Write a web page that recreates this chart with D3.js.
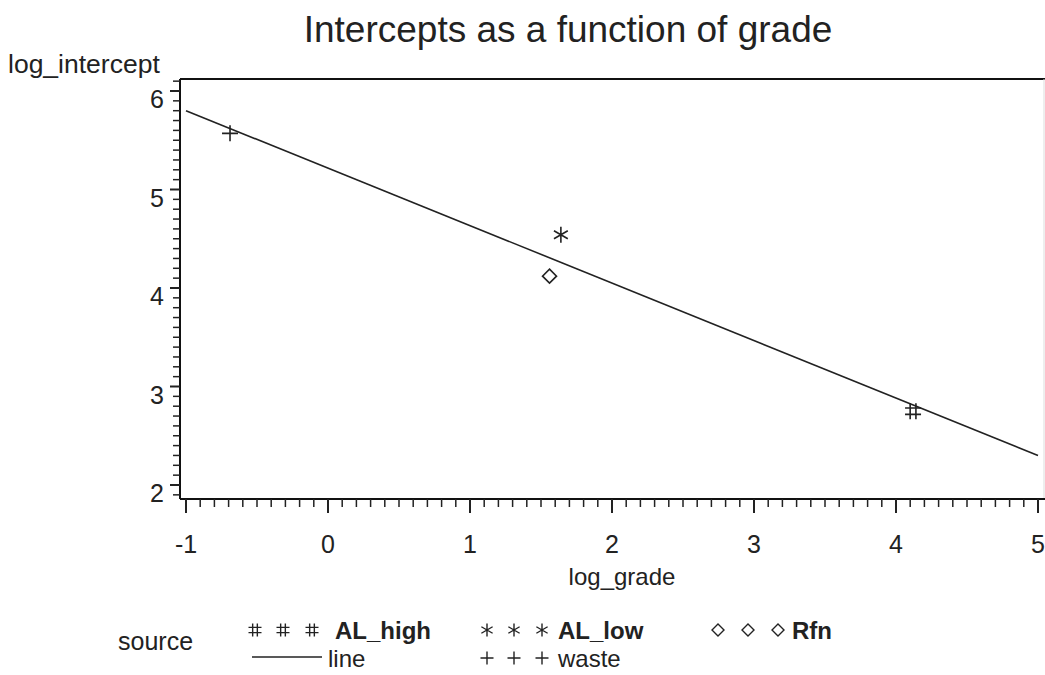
<!DOCTYPE html>
<html>
<head>
<meta charset="utf-8">
<script src="https://cdn.jsdelivr.net/npm/d3@7"></script>
<style>
  body { margin: 0; background: #fff; }
  text { font-family: "Liberation Sans", Arial, Helvetica, sans-serif; fill: #222; }
</style>
</head>
<body>
<div id="chart"></div>
<script>
var width = 1045,
    height = 675;

// data
var sources = ['AL_high', 'AL_low', 'Rfn', 'waste'];
var logGrade = [4.12, 1.64, 1.56, -0.69];
var logIntercept = [2.75, 4.54, 4.12, 5.57];
// fitted line, end points at x = -1 and x = 5
var lineX = [-1, 5];
var lineY = [5.80, 2.30];
var xTicks = [-1, 0, 1, 2, 3, 4, 5];
var yTicks = [2, 3, 4, 5, 6];

var svg = d3.select('#chart')
    .append('svg')
    .attr('width', width)
    .attr('height', height);

var x = d3.scaleLinear().domain([-1, 5]).range([186, 1038]);
var y = d3.scaleLinear().domain([2, 6]).range([485, 91]);

var frameLeft = 180, frameRight = 1045, frameTop = 79, frameBottom = 499;

// symbol paths, centred on 0,0
function symbolPath(name, s) {
    var h = s / 2;
    if (name === 'AL_high') {
        var a = s * 0.18, b = s * 0.2;
        return 'M' + (-a) + ',' + (-h) + 'L' + (-a) + ',' + h +
            'M' + a + ',' + (-h) + 'L' + a + ',' + h +
            'M' + (-h) + ',' + (-b) + 'L' + h + ',' + (-b) +
            'M' + (-h) + ',' + b + 'L' + h + ',' + b;
    }
    if (name === 'AL_low') {
        var p = '';
        for (var i = 0; i < 3; i++) {
            var ang = Math.PI / 2 + i * Math.PI / 3;
            var dx = Math.cos(ang) * h, dy = Math.sin(ang) * h;
            p += 'M' + (-dx) + ',' + (-dy) + 'L' + dx + ',' + dy;
        }
        return p;
    }
    if (name === 'Rfn') {
        return 'M0,' + (-h) + 'L' + h + ',0L0,' + h + 'L' + (-h) + ',0Z';
    }
    return 'M' + (-h) + ',0L' + h + ',0M0,' + (-h) + 'L0,' + h;
}

// title
svg.append('text')
    .attr('x', 568)
    .attr('y', 42)
    .attr('text-anchor', 'middle')
    .style('font-size', '37px')
    .text('Intercepts as a function of grade');

svg.append('text')
    .attr('x', 8)
    .attr('y', 73)
    .style('font-size', '26.5px')
    .text('log_intercept');

// frame
svg.append('line')
    .attr('x1', frameLeft).attr('x2', frameRight)
    .attr('y1', frameTop).attr('y2', frameTop)
    .attr('stroke', '#111').attr('stroke-width', 2);
svg.append('line')
    .attr('x1', frameRight - 1).attr('x2', frameRight - 1)
    .attr('y1', frameTop).attr('y2', frameBottom)
    .attr('stroke', '#ddd').attr('stroke-width', 1);

// y axis
var yMinor = d3.range(19, 62).map(d => d / 10).filter(d => Math.round(d * 10) % 10 !== 0);
var yAxis = svg.append('g').attr('transform', 'translate(' + frameLeft + ',0)');
yAxis.append('line')
    .attr('x1', 0).attr('x2', 0)
    .attr('y1', frameTop).attr('y2', frameBottom)
    .attr('stroke', '#111').attr('stroke-width', 2);
yAxis.selectAll('.minor')
    .data(yMinor)
    .enter()
    .append('line')
    .attr('x1', -7).attr('x2', 0)
    .attr('y1', d => y(d)).attr('y2', d => y(d))
    .attr('stroke', '#222').attr('stroke-width', 1.5);
yAxis.selectAll('.major')
    .data(yTicks)
    .enter()
    .append('line')
    .attr('x1', -10).attr('x2', 0)
    .attr('y1', d => y(d)).attr('y2', d => y(d))
    .attr('stroke', '#222').attr('stroke-width', 2);
yAxis.selectAll('text')
    .data(yTicks)
    .enter()
    .append('text')
    .attr('x', -16)
    .attr('y', d => y(d) + 17)
    .attr('text-anchor', 'end')
    .style('font-size', '25px')
    .text(d => d);

// x axis
var xMinor = d3.range(-10, 51).map(d => d / 10).filter(d => Math.round(d * 10) % 10 !== 0);
var xAxis = svg.append('g').attr('transform', 'translate(0,' + frameBottom + ')');
xAxis.append('line')
    .attr('x1', frameLeft).attr('x2', frameRight)
    .attr('y1', 0).attr('y2', 0)
    .attr('stroke', '#111').attr('stroke-width', 2);
xAxis.selectAll('.minor')
    .data(xMinor)
    .enter()
    .append('line')
    .attr('x1', d => x(d)).attr('x2', d => x(d))
    .attr('y1', 0).attr('y2', 8)
    .attr('stroke', '#222').attr('stroke-width', 1.5);
xAxis.selectAll('.major')
    .data(xTicks)
    .enter()
    .append('line')
    .attr('x1', d => x(d)).attr('x2', d => x(d))
    .attr('y1', 0).attr('y2', 14)
    .attr('stroke', '#222').attr('stroke-width', 2);
xAxis.selectAll('text')
    .data(xTicks)
    .enter()
    .append('text')
    .attr('x', d => x(d))
    .attr('y', 54)
    .attr('text-anchor', 'middle')
    .style('font-size', '25px')
    .text(d => d);

svg.append('text')
    .attr('x', 622)
    .attr('y', 585)
    .attr('text-anchor', 'middle')
    .style('font-size', '24px')
    .text('log_grade');

// fitted line
svg.append('path')
    .datum(d3.zip(lineX, lineY))
    .attr('fill', 'none')
    .attr('stroke', '#222')
    .attr('stroke-width', 1.6)
    .attr('d', d3.line().x(d => x(d[0])).y(d => y(d[1])));

// points
svg.selectAll('.pt')
    .data(d3.range(sources.length))
    .enter()
    .append('path')
    .attr('class', 'pt')
    .attr('transform', i => 'translate(' + x(logGrade[i]) + ',' + y(logIntercept[i]) + ')')
    .attr('d', i => symbolPath(sources[i], sources[i] === 'Rfn' ? 14 : 16))
    .attr('fill', 'none')
    .attr('stroke', '#222')
    .attr('stroke-width', 1.6);

// legend
svg.append('text')
    .attr('x', 118)
    .attr('y', 650)
    .style('font-size', '25px')
    .text('source');

var legendItems = [
    { name: 'AL_high', sx: [255, 283, 312], tx: 335, row: 0, bold: true },
    { name: 'AL_low', sx: [487, 514, 542], tx: 558, row: 0, bold: true },
    { name: 'Rfn', sx: [718, 748, 778], tx: 792, row: 0, bold: true },
    { name: 'waste', sx: [487, 514, 542], tx: 558, row: 1, bold: false }
];
var rowY = [630, 658];
var legend = svg.append('g');
legendItems.forEach(item => {
    item.sx.forEach(cx => {
        legend.append('path')
            .attr('transform', 'translate(' + cx + ',' + rowY[item.row] + ')')
            .attr('d', symbolPath(item.name, item.name === 'Rfn' ? 12 : 13))
            .attr('fill', 'none')
            .attr('stroke', '#222')
            .attr('stroke-width', 1.4);
    });
    legend.append('text')
        .attr('x', item.tx)
        .attr('y', rowY[item.row] + 9)
        .style('font-size', '24px')
        .style('font-weight', item.bold ? 'bold' : 'normal')
        .text(item.name);
});
legend.append('line')
    .attr('x1', 252).attr('x2', 322)
    .attr('y1', 657).attr('y2', 657)
    .attr('stroke', '#222').attr('stroke-width', 1.6);
legend.append('text')
    .attr('x', 328)
    .attr('y', 667)
    .style('font-size', '24px')
    .text('line');
</script>
</body>
</html>
